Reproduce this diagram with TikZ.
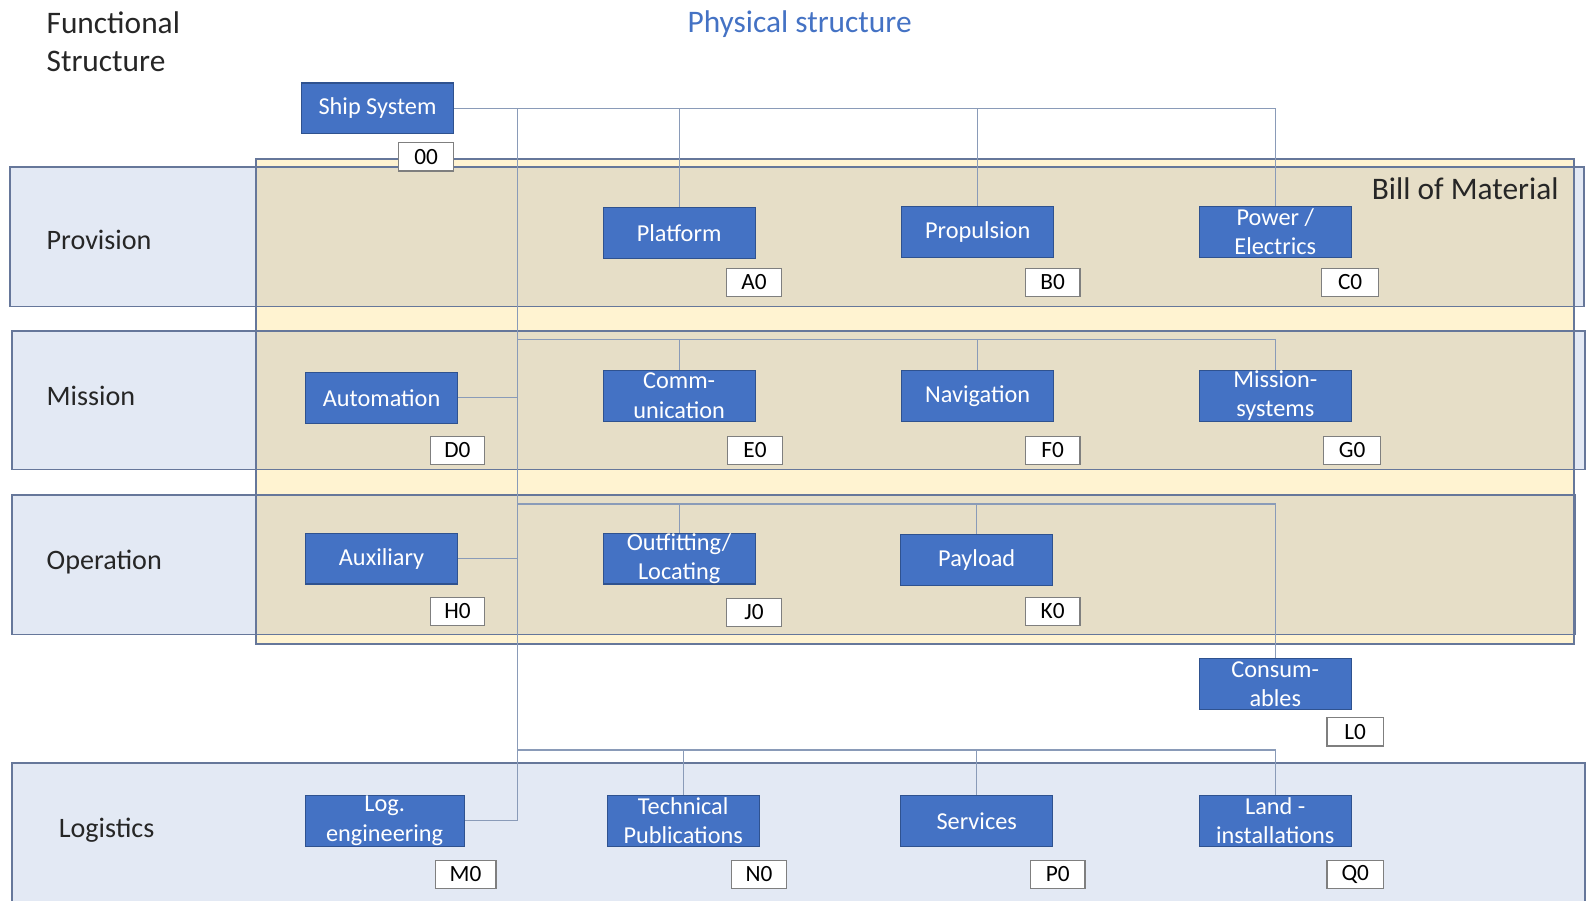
\documentclass[tikz,border=0pt]{standalone}
\usepackage{fontspec}
\setmainfont{Carlito}
\definecolor{boxblue}{HTML}{4472C4}
\definecolor{boxedge}{HTML}{2F528F}
\definecolor{bandfill}{HTML}{E3E9F4}
\definecolor{bandedge}{HTML}{66779A}
\definecolor{bomfill}{HTML}{FFF3D1}
\definecolor{bomtan}{HTML}{E6DEC7}
\definecolor{wirecol}{HTML}{8A9BB8}
\definecolor{titleblue}{HTML}{4472C4}
\definecolor{tagedge}{HTML}{7F7F7F}
\begin{document}
\begin{tikzpicture}[x=0.5pt,y=-0.5pt,
  box/.style={draw=boxedge, line width=0.5pt, fill=boxblue, text=white,
    minimum width=75pt, minimum height=25pt, inner sep=0pt, align=center,
    font=\fontsize{12}{14.5}\selectfont},
  tag/.style={draw=tagedge, line width=0.6pt, fill=white, minimum width=27pt,
    minimum height=14pt, inner sep=0pt, font=\fontsize{11.5}{12}\selectfont},
  wire/.style={draw=wirecol, line width=0.55pt},
  bandlabel/.style={anchor=west, text=black!85, font=\fontsize{13.9}{16}\selectfont},
  bandline/.style={draw=bandedge, line width=0.8pt}]
\useasboundingbox (0,0) rectangle (1568,890);

% functional bands
\path[fill=bandfill] (10,165) rectangle (1565,303);
\path[fill=bandfill] (12,327) rectangle (1566,464);
\path[fill=bandfill] (12,489) rectangle (1556,627);
\path[fill=bandfill] (12,754) rectangle (1566,890);

% bill of material area
\path[fill=bomfill] (253,157) rectangle (1555,636);
\path[fill=bomtan] (253,165) rectangle (1555,303);
\path[fill=bomtan] (253,327) rectangle (1555,464);
\path[fill=bomtan] (253,489) rectangle (1555,627);

% band outlines
\draw[bandline] (10,165) rectangle (1565,303);
\draw[bandline] (12,327) rectangle (1566,464);
\draw[bandline] (12,489) rectangle (1556,627);
\draw[bandline] (12,890) -- (12,754) -- (1566,754) -- (1566,890);
\draw[bandline] (253,157) rectangle (1555,636);

% headings
\node[anchor=west, align=left, text=black!85, font=\fontsize{15.5}{19}\selectfont] (fs) at (39,41) {Functional\\Structure};
\node[text=titleblue, font=\fontsize{15.5}{19}\selectfont] (ps) at (790,24) {Physical structure};
\node[anchor=east, text=black!85, font=\fontsize{15.5}{19}\selectfont] (bom) at (1547,186) {Bill of Material};

\node[bandlabel] (lprov) at (39,237) {Provision};
\node[bandlabel] (lmiss) at (39,391) {Mission};
\node[bandlabel] (loper) at (39,555) {Operation};
\node[bandlabel] (llog) at (51,820) {Logistics};

% physical items
\node[box] (ship) at (373,107) {Ship System};
\node[box] (plat) at (671,230) {Platform};
\node[box] (prop) at (966,229) {Propulsion};
\node[box] (power) at (1260,229) {Power /\\Electrics};
\node[box] (auto) at (377,393) {Automation};
\node[box] (comm) at (671,391) {Comm-\\unication};
\node[box] (nav) at (966,391) {Navigation};
\node[box] (misys) at (1260,391) {Mission-\\systems};
\node[box] (aux) at (377,552) {Auxiliary};
\node[box] (outfit) at (671,552) {Outfitting/\\Locating};
\node[box] (payload) at (965,553) {Payload};
\node[box] (consum) at (1260,676) {Consum-\\ables};
\node[box, minimum width=78.5pt] (logeng) at (380,811) {Log.\\engineering};
\node[box] (tech) at (675,811) {Technical\\Publications};
\node[box] (serv) at (965,811) {Services};
\node[box] (land) at (1260,811) {Land -\\installations};

% item codes
\node[tag] (t00) at (421,155) {00};
\node[tag] (tA) at (745,279) {A0};
\node[tag] (tB) at (1040,279) {B0};
\node[tag, minimum width=28pt] (tC) at (1334,279) {C0};
\node[tag] (tD) at (452,445) {D0};
\node[tag] (tE) at (746,445) {E0};
\node[tag] (tF) at (1040,445) {F0};
\node[tag, minimum width=28pt] (tG) at (1336,445) {G0};
\node[tag] (tH) at (452,604) {H0};
\node[tag] (tJ) at (745,605) {J0};
\node[tag] (tK) at (1040,604) {K0};
\node[tag, minimum width=28pt] (tL) at (1339,723) {L0};
\node[tag, minimum width=30pt] (tM) at (460,864) {M0};
\node[tag] (tN) at (750,864) {N0};
\node[tag] (tP) at (1045,864) {P0};
\node[tag, minimum width=28pt] (tQ) at (1339,864) {Q0};

% tree connectors
\coordinate (trunk) at (511,107);
\coordinate (mrail) at (511,335);
\coordinate (orail) at (511,498);
\coordinate (lrail) at (511,741);

\draw[wire] (ship.east) -- (ship.east -| power.north) -- (power.north);
\draw[wire] (plat.north) -- (plat.north |- ship.east);
\draw[wire] (prop.north) -- (prop.north |- ship.east);
\draw[wire] (trunk) -- (trunk |- logeng.east) -- (logeng.east);

\draw[wire] (mrail) -- (mrail -| misys.north) -- (misys.north);
\draw[wire] (comm.north) -- (comm.north |- mrail);
\draw[wire] (nav.north) -- (nav.north |- mrail);
\draw[wire] (auto.east) -- (auto.east -| trunk);

\draw[wire] (orail) -- (orail -| consum.north) -- (consum.north);
\draw[wire] (outfit.north) -- (outfit.north |- orail);
\draw[wire] (payload.north) -- (payload.north |- orail);
\draw[wire] (aux.east) -- (aux.east -| trunk);

\draw[wire] (lrail) -- (lrail -| land.north) -- (land.north);
\draw[wire] (tech.north) -- (tech.north |- lrail);
\draw[wire] (serv.north) -- (serv.north |- lrail);
\end{tikzpicture}
\end{document}
